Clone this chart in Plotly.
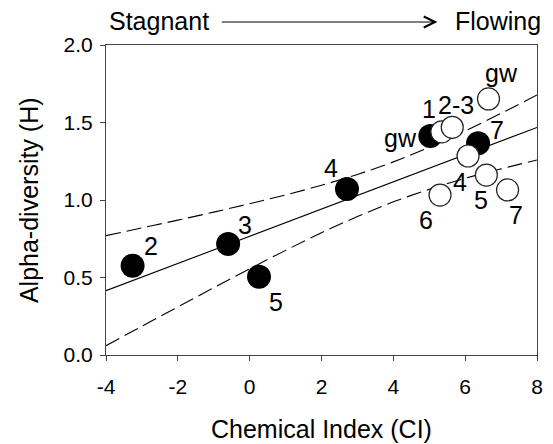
import plotly.graph_objects as go

# ---- data ----
closed_x = [-3.26, -0.60, 0.26, 2.71, 5.03, 6.36]
closed_y = [0.576, 0.716, 0.505, 1.071, 1.413, 1.366]
closed_labels = ["2", "3", "5", "4", "gw", "7"]

open_x = [5.35, 5.64, 6.65, 6.08, 6.59, 7.18, 5.30]
open_y = [1.440, 1.469, 1.652, 1.284, 1.161, 1.065, 1.032]
open_labels = ["1", "2-3", "gw", "4", "5", "7", "6"]

fit_x = [-4, 8]
fit_y = [0.415, 1.468]

band_x = [-4, -3, -2, -1, 0, 1, 2, 3, 4, 5, 6, 7, 8]
band_upper = [0.770, 0.820, 0.870, 0.922, 0.976, 1.033, 1.095, 1.165, 1.246, 1.341, 1.446, 1.559, 1.678]
band_lower = [0.060, 0.186, 0.310, 0.434, 0.556, 0.675, 0.789, 0.893, 0.988, 1.069, 1.140, 1.201, 1.258]

x_tickvals = [-4, -2, 0, 2, 4, 6, 8]
x_ticktext = ["-4", "-2", "0", "2", "4", "6", "8"]
y_tickvals = [0.0, 0.5, 1.0, 1.5, 2.0]
y_ticktext = ["0.0", "0.5", "1.0", "1.5", "2.0"]

# ---- label offsets (pixels, screen: +dx right, +dy down) ----
closed_off = [(18, -20), (17, -19), (17, 25), (-16, -21), (-30, 2), (19, -13)]
open_off = [(-13, -23), (4, -22), (13, -26), (-8, 26), (-5, 25), (8, 25), (-14, 25)]

FONT = "Liberation Sans, Arial, sans-serif"
L, R, T, B = 106, 10, 45, 89
PW, PH = 553 - L - R, 444 - T - B


def px(xp):
    return (xp - L) / PW


def py(yp):
    return (444 - B - yp) / PH


fig = go.Figure()
for yy in (band_upper, band_lower):
    fig.add_trace(go.Scatter(x=band_x, y=yy, mode="lines", line_shape="spline",
                             line=dict(color="black", width=1.1, dash="15px,6px"),
                             hoverinfo="skip", showlegend=False))
fig.add_trace(go.Scatter(x=fit_x, y=fit_y, mode="lines",
                         line=dict(color="black", width=1.1), showlegend=False))
fig.add_trace(go.Scatter(x=closed_x, y=closed_y, mode="markers",
                         marker=dict(size=24, color="black", line=dict(width=0)),
                         showlegend=False))
fig.add_trace(go.Scatter(x=open_x, y=open_y, mode="markers",
                         marker=dict(size=22, color="white", line=dict(width=1.2, color="#222")),
                         showlegend=False))

ann = []
for x, y, t, (dx, dy) in zip(closed_x, closed_y, closed_labels, closed_off):
    ann.append(dict(x=x, y=y, text=t, showarrow=False, xshift=dx, yshift=-dy,
                    xanchor="center", yanchor="middle", font=dict(size=25, color="black", family=FONT)))
for x, y, t, (dx, dy) in zip(open_x, open_y, open_labels, open_off):
    ann.append(dict(x=x, y=y, text=t, showarrow=False, xshift=dx, yshift=-dy,
                    xanchor="center", yanchor="middle", font=dict(size=25, color="black", family=FONT)))

# top annotation: Stagnant ---> Flowing
ann.append(dict(xref="paper", yref="paper", x=px(160), y=py(21),
                text="Stagnant", showarrow=False, xanchor="center", yanchor="middle",
                font=dict(size=25, color="black", family=FONT)))
ann.append(dict(xref="paper", yref="paper", x=px(503), y=py(21),
                text="Flowing", showarrow=False, xanchor="center", yanchor="middle",
                font=dict(size=25, color="black", family=FONT)))
ann.append(dict(xref="paper", yref="paper", x=px(442), y=py(22),
                ax=-217, ay=0, axref="pixel", ayref="pixel", text="", showarrow=True,
                arrowhead=5, arrowsize=2.2, arrowwidth=1, arrowcolor="black"))
# axis titles
ann.append(dict(xref="paper", yref="paper", x=0.5, y=py(429),
                text="Chemical Index (CI)", showarrow=False, xanchor="center", yanchor="middle",
                font=dict(size=25, color="black", family=FONT)))
ann.append(dict(xref="paper", yref="paper", x=px(28), y=0.5, textangle=-90,
                text="Alpha-diversity (H)", showarrow=False, xanchor="center", yanchor="middle",
                font=dict(size=25, color="black", family=FONT)))

axis_common = dict(showgrid=False, zeroline=False, showline=True, linecolor="#444",
                   linewidth=1, mirror=True, ticks="outside", ticklen=5, tickcolor="#444",
                   tickfont=dict(size=21, color="black", family=FONT))

fig.update_layout(
    width=553, height=444,
    margin=dict(l=L, r=R, t=T, b=B),
    paper_bgcolor="white", plot_bgcolor="white",
    xaxis=dict(range=[-4, 8], tickvals=x_tickvals, ticktext=x_ticktext,
               ticklabelstandoff=8, **axis_common),
    yaxis=dict(range=[0, 2], tickvals=y_tickvals, ticktext=y_ticktext,
               ticklabelstandoff=3, **axis_common),
    annotations=ann,
    showlegend=False,
)

fig.write_html("out.html", config={"displayModeBar": False},
               post_script="document.body.style.margin='0px';")
